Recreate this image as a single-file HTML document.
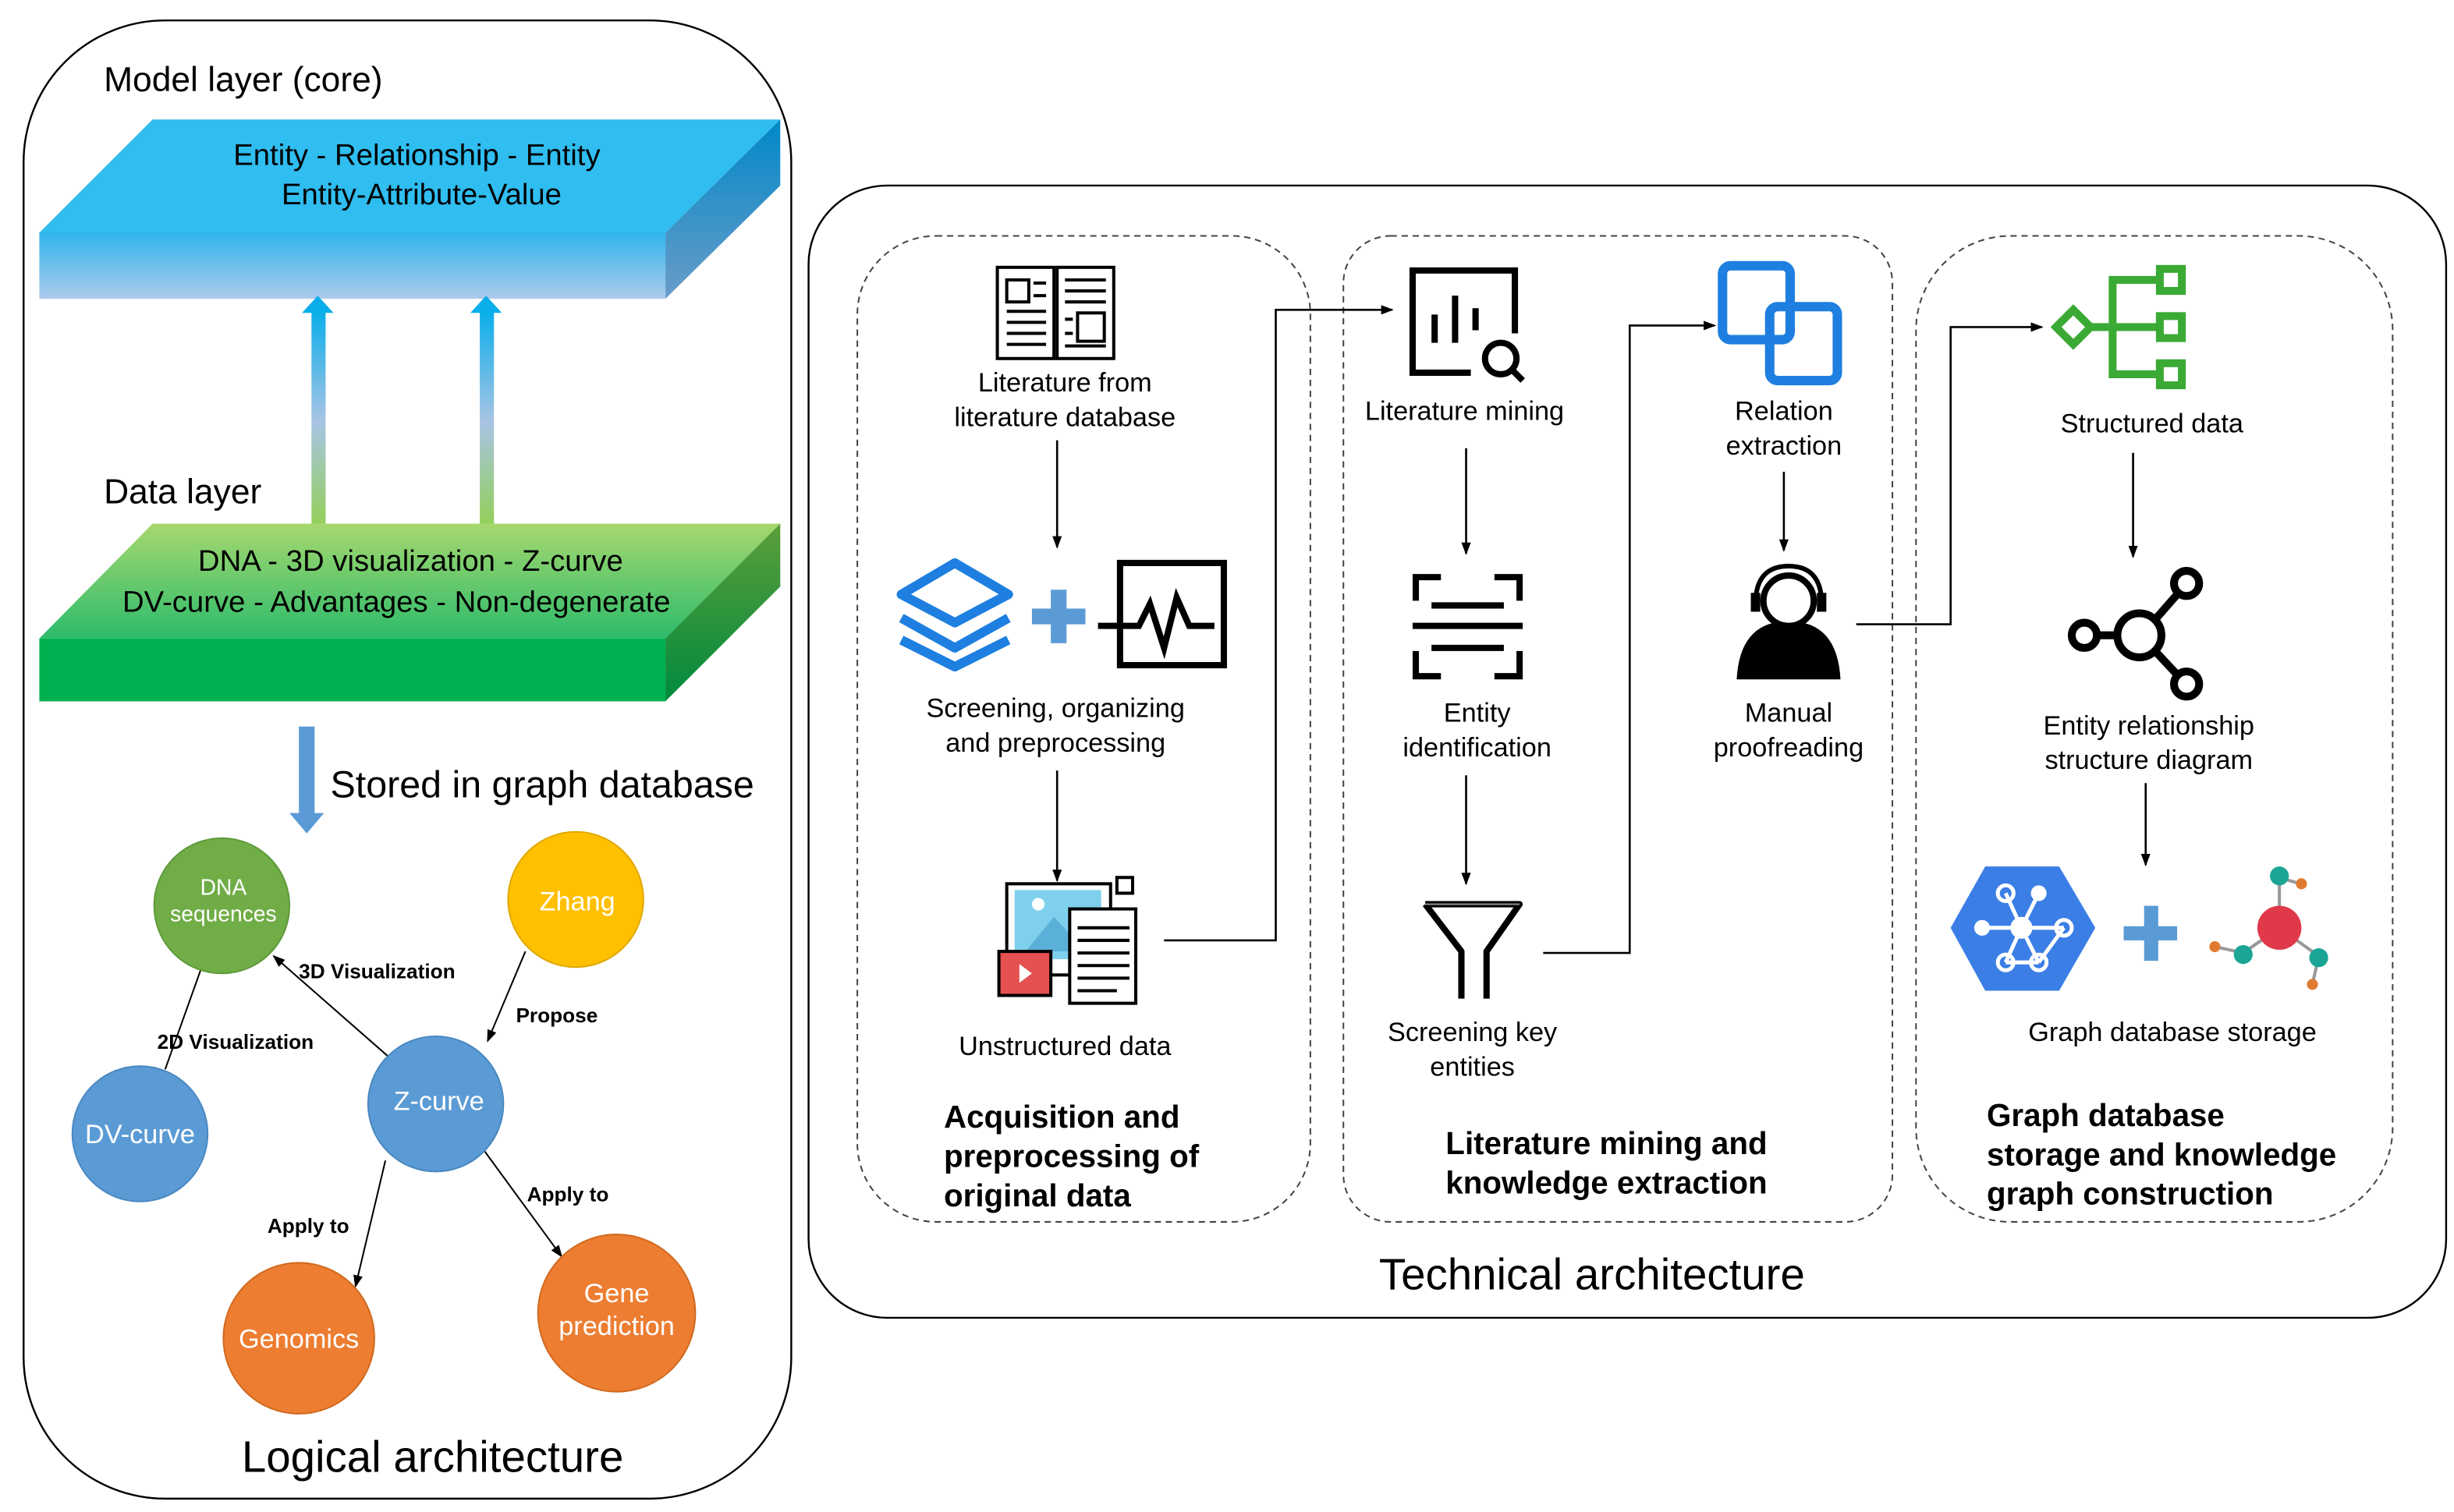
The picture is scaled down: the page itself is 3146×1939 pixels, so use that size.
<!DOCTYPE html>
<html><head><meta charset="utf-8"><style>
html,body{margin:0;padding:0;background:#fff;}
svg{display:block;}
text{font-family:"Liberation Sans",sans-serif;}
</style></head><body>
<svg width="3146" height="1939" viewBox="0 0 1560 961.5" preserveAspectRatio="none" xmlns="http://www.w3.org/2000/svg">
<defs>
<linearGradient id="bf" x1="0" y1="0" x2="0" y2="1"><stop offset="0" stop-color="#2fb4ec"/><stop offset="1" stop-color="#aecbec"/></linearGradient>
<linearGradient id="br" x1="0" y1="0" x2="0" y2="1"><stop offset="0" stop-color="#0088c8"/><stop offset="1" stop-color="#6a9cc8"/></linearGradient>
<linearGradient id="gt" x1="0" y1="0" x2="0" y2="1"><stop offset="0" stop-color="#a6d86e"/><stop offset="1" stop-color="#2dbb6c"/></linearGradient>
<linearGradient id="gr" x1="0" y1="0" x2="0" y2="1"><stop offset="0" stop-color="#5c9e3a"/><stop offset="1" stop-color="#008a3e"/></linearGradient>
<linearGradient id="ar" x1="0" y1="0" x2="0" y2="1"><stop offset="0" stop-color="#0aaeea"/><stop offset="0.5" stop-color="#a8c4e4"/><stop offset="1" stop-color="#92d050"/></linearGradient>
<marker id="m" markerWidth="8" markerHeight="8" refX="7" refY="4" orient="auto" markerUnits="userSpaceOnUse"><path d="M0,1 L8,4 L0,7 z" fill="#000"/></marker>
</defs>

<!-- Left panel -->
<rect x="15" y="13" width="488" height="940" rx="90" fill="none" stroke="#000" stroke-width="1.2"/>
<text x="66" y="58" font-size="22">Model layer (core)</text>
<polygon points="25,148 97,76 496,76 423,148" fill="#30bdf0"/>
<polygon points="423,148 496,76 496,118 423,190" fill="url(#br)"/>
<rect x="25" y="148" width="398" height="42" fill="url(#bf)"/>
<text x="265" y="105" font-size="19" text-anchor="middle">Entity - Relationship - Entity</text>
<text x="268" y="130" font-size="19" text-anchor="middle">Entity-Attribute-Value</text>

<rect x="198" y="198" width="9" height="140" fill="url(#ar)"/>
<polygon points="192,199 202,188 212,199" fill="#0aaeea"/>
<rect x="305" y="198" width="9" height="140" fill="url(#ar)"/>
<polygon points="299,199 309,188 319,199" fill="#0aaeea"/>

<text x="66" y="320" font-size="22">Data layer</text>
<polygon points="25,406 97,333 496,333 423,406" fill="url(#gt)"/>
<polygon points="423,406 496,333 496,373 423,446" fill="url(#gr)"/>
<rect x="25" y="406" width="398" height="40" fill="#00b050"/>
<text x="261" y="363" font-size="19" text-anchor="middle">DNA - 3D visualization - Z-curve</text>
<text x="252" y="389" font-size="19" text-anchor="middle">DV-curve - Advantages - Non-degenerate</text>

<rect x="190" y="462" width="10" height="56" fill="#5b9bd5"/>
<polygon points="184,517 206,517 195,530" fill="#5b9bd5"/>
<text x="210" y="507" font-size="24">Stored in graph database</text>

<g stroke="#000" stroke-width="1" marker-end="url(#m)">
<line x1="105" y1="680" x2="130" y2="610"/>
<line x1="247" y1="672" x2="174" y2="608"/>
<line x1="334" y1="605" x2="310" y2="662"/>
<line x1="245" y1="738" x2="226" y2="818"/>
<line x1="308" y1="732" x2="357" y2="799"/>
</g>
<circle cx="141" cy="576" r="43" fill="#70ad47" stroke="#5f9a3c"/>
<circle cx="366" cy="572" r="43" fill="#ffc000" stroke="#e0a800"/>
<circle cx="89" cy="721" r="43" fill="#5b9bd5" stroke="#4a88c0"/>
<circle cx="277" cy="702" r="43" fill="#5b9bd5" stroke="#4a88c0"/>
<circle cx="190" cy="851" r="48" fill="#ed7d31" stroke="#d06a20"/>
<circle cx="392" cy="835" r="50" fill="#ed7d31" stroke="#d06a20"/>
<g fill="#fff" text-anchor="middle">
<text x="142" y="569" font-size="14">DNA</text>
<text x="142" y="586" font-size="14">sequences</text>
<text x="367" y="579" font-size="17">Zhang</text>
<text x="89" y="727" font-size="17">DV-curve</text>
<text x="279" y="706" font-size="17">Z-curve</text>
<text x="190" y="857" font-size="17">Genomics</text>
<text x="392" y="828" font-size="17">Gene</text>
<text x="392" y="849" font-size="17">prediction</text>
</g>
<g font-size="13" font-weight="bold">
<text x="190" y="622">3D Visualization</text>
<text x="100" y="667">2D Visualization</text>
<text x="328" y="650">Propose</text>
<text x="170" y="784">Apply to</text>
<text x="335" y="764">Apply to</text>
</g>
<text x="275" y="936" font-size="28" text-anchor="middle">Logical architecture</text>

<!-- Right panel -->
<rect x="514" y="118" width="1041" height="720" rx="50" fill="none" stroke="#000" stroke-width="1.2"/>
<g fill="none" stroke="#444" stroke-width="1" stroke-dasharray="4,3">
<rect x="545" y="150" width="288" height="627" rx="50"/>
<rect x="854" y="150" width="349" height="627" rx="30"/>
<rect x="1218" y="150" width="303" height="627" rx="60"/>
</g>
<text x="1012" y="820" font-size="28" text-anchor="middle">Technical architecture</text>

<g font-size="17" text-anchor="middle">
<text x="677" y="249">Literature from</text>
<text x="677" y="271">literature database</text>
<text x="671" y="456">Screening, organizing</text>
<text x="671" y="478">and  preprocessing</text>
<text x="677" y="671">Unstructured data</text>
<text x="931" y="267">Literature mining</text>
<text x="939" y="459">Entity</text>
<text x="939" y="481">identification</text>
<text x="936" y="662">Screening  key</text>
<text x="936" y="684">entities</text>
<text x="1134" y="267">Relation</text>
<text x="1134" y="289">extraction</text>
<text x="1137" y="459">Manual</text>
<text x="1137" y="481">proofreading</text>
<text x="1368" y="275">Structured data</text>
<text x="1366" y="467">Entity relationship</text>
<text x="1366" y="489">structure diagram</text>
<text x="1381" y="662">Graph database storage</text>
</g>
<g font-size="20" font-weight="bold">
<text x="600" y="717">Acquisition and</text>
<text x="600" y="742">preprocessing of</text>
<text x="600" y="767">original data</text>
<text x="919" y="734">Literature mining and</text>
<text x="919" y="759">knowledge extraction</text>
<text x="1263" y="716">Graph database</text>
<text x="1263" y="741">storage and knowledge</text>
<text x="1263" y="766">graph construction</text>
</g>

<g stroke="#000" stroke-width="1.3" fill="none" marker-end="url(#m)">
<line x1="672" y1="280" x2="672" y2="348"/>
<line x1="672" y1="490" x2="672" y2="560"/>
<polyline points="740,598 811,598 811,197 885,197"/>
<line x1="932" y1="285" x2="932" y2="352"/>
<line x1="932" y1="493" x2="932" y2="562"/>
<polyline points="981,606 1036,606 1036,207 1090,207"/>
<line x1="1134" y1="300" x2="1134" y2="350"/>
<polyline points="1180,397 1240,397 1240,208 1298,208"/>
<line x1="1356" y1="288" x2="1356" y2="354"/>
<line x1="1364" y1="498" x2="1364" y2="550"/>
</g>

<!-- book icon -->
<g stroke="#000" stroke-width="2" fill="none">
<rect x="634" y="170" width="36" height="58"/><rect x="672" y="170" width="36" height="58"/>
<rect x="640" y="178" width="14" height="14"/>
<line x1="657" y1="180" x2="665" y2="180"/><line x1="657" y1="188" x2="665" y2="188"/>
<line x1="640" y1="198" x2="665" y2="198"/><line x1="640" y1="205" x2="665" y2="205"/><line x1="640" y1="212" x2="665" y2="212"/><line x1="640" y1="219" x2="665" y2="219"/>
<line x1="677" y1="178" x2="703" y2="178"/><line x1="677" y1="185" x2="703" y2="185"/><line x1="677" y1="192" x2="703" y2="192"/>
<rect x="685" y="199" width="17" height="18"/><line x1="677" y1="203" x2="682" y2="203"/><line x1="677" y1="212" x2="682" y2="212"/><line x1="677" y1="220" x2="703" y2="220"/>
</g>
<!-- layers icon -->
<g stroke="#1e7fe0" stroke-width="6" fill="none" stroke-linejoin="round">
<polygon points="607,358 641,378 607,396 573,378"/>
<polyline points="573,393 607,412 641,393"/>
<polyline points="573,407 607,424 641,407"/>
</g>
<g fill="#5b9bd5"><rect x="656" y="387" width="34" height="10"/><rect x="668" y="375" width="10" height="34"/></g>
<g stroke="#000" stroke-width="4" fill="none">
<rect x="712" y="358" width="66" height="65"/>
<polyline points="698,398 724,398 731,384 740,412 748,380 756,398 772,398"/>
</g>
<!-- unstructured icon -->
<g>
<rect x="640" y="562" width="66" height="58" fill="none" stroke="#000" stroke-width="2"/>
<rect x="645" y="566" width="55" height="44" fill="#7fd0ec"/>
<polygon points="652,605 670,583 682,596 690,588 700,605" fill="#5ab0d8"/>
<circle cx="660" cy="575" r="4" fill="#fff"/>
<rect x="680" y="578" width="42" height="60" fill="#fff" stroke="#000" stroke-width="2"/>
<g stroke="#000" stroke-width="2"><line x1="685" y1="590" x2="718" y2="590"/><line x1="685" y1="598" x2="718" y2="598"/><line x1="685" y1="606" x2="718" y2="606"/><line x1="685" y1="614" x2="718" y2="614"/><line x1="685" y1="622" x2="718" y2="622"/><line x1="685" y1="630" x2="710" y2="630"/></g>
<rect x="635" y="605" width="33" height="28" fill="#e55050" stroke="#000" stroke-width="2"/>
<polygon points="648,613 656,619 648,625" fill="#fff"/>
<rect x="710" y="558" width="10" height="10" fill="none" stroke="#000" stroke-width="2"/>
</g>
<!-- literature mining icon -->
<g stroke="#000" stroke-width="4" fill="none">
<polyline points="935,237 898,237 898,172 963,172 963,212"/>
<line x1="912" y1="200" x2="912" y2="218"/><line x1="925" y1="188" x2="925" y2="218"/><line x1="938" y1="196" x2="938" y2="210"/>
<circle cx="954" cy="228" r="10"/><line x1="961" y1="235" x2="968" y2="242"/>
</g>
<!-- entity id icon -->
<g stroke="#000" stroke-width="4" fill="none">
<polyline points="900,382 900,367 916,367"/><polyline points="950,367 966,367 966,382"/>
<polyline points="900,414 900,430 916,430"/><polyline points="950,430 966,430 966,414"/>
<line x1="910" y1="385" x2="956" y2="385"/><line x1="898" y1="398" x2="968" y2="398"/><line x1="910" y1="412" x2="956" y2="412"/>
</g>
<!-- funnel -->
<path d="M906,575 L966,575 L945,605 L945,635 M906,575 L929,605 L929,635" stroke="#000" stroke-width="4" fill="none" stroke-linejoin="round"/>
<path d="M906,575 L966,575" stroke="#888" stroke-width="1"/>
<!-- relation icon -->
<g stroke="#1e7fe0" stroke-width="6" fill="none">
<rect x="1095" y="169" width="43" height="47" rx="5"/>
<rect x="1125" y="195" width="43" height="47" rx="5"/>
</g>
<!-- person -->
<g>
<path d="M1104,432 Q1106,395 1137,395 Q1168,395 1170,432 Z" fill="#000"/>
<circle cx="1137" cy="382" r="16" fill="#fff" stroke="#000" stroke-width="4"/>
<path d="M1116,384 Q1116,360 1137,360 Q1158,360 1158,384" fill="none" stroke="#000" stroke-width="3"/>
<rect x="1113" y="377" width="6" height="12" fill="#000"/><rect x="1155" y="377" width="6" height="12" fill="#000"/>
</g>
<!-- structured data icon -->
<g stroke="#3aaa35" stroke-width="5" fill="none">
<polygon points="1307,208 1318,197 1329,208 1318,219"/>
<line x1="1329" y1="208" x2="1343" y2="208"/>
<polyline points="1373,178 1343,178 1343,238 1373,238"/>
<line x1="1343" y1="208" x2="1373" y2="208"/>
<rect x="1373" y="171" width="14" height="14"/><rect x="1373" y="201" width="14" height="14"/><rect x="1373" y="231" width="14" height="14"/>
</g>
<!-- entity graph icon -->
<g stroke="#000" stroke-width="5" fill="none">
<circle cx="1360" cy="404" r="14"/><circle cx="1325" cy="404" r="8"/><circle cx="1390" cy="371" r="8"/><circle cx="1390" cy="435" r="8"/>
<line x1="1333" y1="404" x2="1346" y2="404"/><line x1="1370" y1="394" x2="1384" y2="378"/><line x1="1370" y1="414" x2="1384" y2="429"/>
</g>
<!-- hex -->
<polygon points="1262,551 1309,551 1332,590 1309,630 1262,630 1240,590" fill="#3b7ee6"/>
<g stroke="#fff" stroke-width="2.5" fill="none">
<line x1="1275" y1="568" x2="1285" y2="590"/><line x1="1296" y1="568" x2="1285" y2="590"/><line x1="1260" y1="590" x2="1285" y2="590"/><line x1="1285" y1="590" x2="1312" y2="590"/><line x1="1285" y1="590" x2="1275" y2="612"/><line x1="1285" y1="590" x2="1296" y2="612"/><line x1="1275" y1="612" x2="1296" y2="612"/><line x1="1296" y1="612" x2="1312" y2="590"/>
<circle cx="1275" cy="568" r="5"/><circle cx="1275" cy="612" r="5"/><circle cx="1296" cy="612" r="5"/><circle cx="1312" cy="590" r="5"/>
</g>
<g fill="#fff"><circle cx="1296" cy="568" r="5"/><circle cx="1260" cy="590" r="5"/><circle cx="1285" cy="590" r="7"/></g>
<g fill="#5b9bd5"><rect x="1350" y="589" width="34" height="9"/><rect x="1363" y="576" width="9" height="35"/></g>
<!-- molecule -->
<g stroke="#999" stroke-width="2"><line x1="1449" y1="590" x2="1449" y2="558"/><line x1="1449" y1="590" x2="1426" y2="606"/><line x1="1449" y1="590" x2="1474" y2="608"/><line x1="1426" y1="606" x2="1408" y2="602"/><line x1="1474" y1="608" x2="1470" y2="626"/><line x1="1449" y1="558" x2="1462" y2="562"/></g>
<circle cx="1449" cy="590" r="14" fill="#e03a4a"/>
<circle cx="1449" cy="557" r="6" fill="#1aa595"/><circle cx="1426" cy="607" r="6" fill="#1aa595"/><circle cx="1474" cy="609" r="6" fill="#1aa595"/>
<circle cx="1408" cy="602" r="3.5" fill="#e07a30"/><circle cx="1470" cy="626" r="3.5" fill="#e07a30"/><circle cx="1463" cy="562" r="3.5" fill="#e07a30"/>
</svg>
</body></html>
